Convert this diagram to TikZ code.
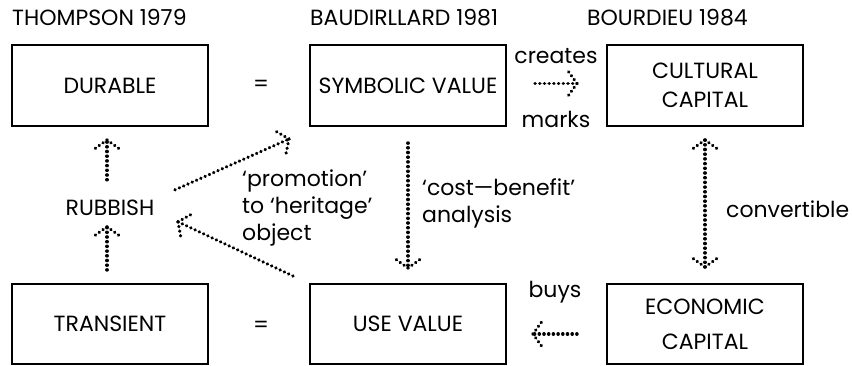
\documentclass[tikz,border=0pt]{standalone}
\usepackage{fontspec}
\setmainfont{Poppins}
\usetikzlibrary{positioning, decorations.markings}

\tikzset{
  box/.style={draw, line width=1.5pt, minimum width=196pt, minimum height=81pt,
    outer sep=0pt, inner sep=0pt, align=center},
  dots/.style={line width=3.4pt, line cap=round, dash pattern=on 0.2pt off 4.5pt},
  headtip/.style={postaction={decorate, decoration={markings,
    mark=at position 1 with {\draw[dots] (0,0) -- (-10pt,14pt);
                             \draw[dots] (0,0) -- (-10pt,-14pt);}}}},
  tailtip/.style={postaction={decorate, decoration={markings,
    mark=at position 0 with {\draw[dots] (0,0) -- (10pt,14pt);
                             \draw[dots] (0,0) -- (10pt,-14pt);}}}},
  dotarrow/.style={dots, headtip},
  dotboth/.style={dots, headtip, tailtip}
}

\begin{document}
\begin{tikzpicture}[x=1pt, y=-1pt, font=\fontsize{22}{27}\selectfont]
  \useasboundingbox (0,0) rectangle (852,365);

  % headings
  \node[anchor=base west, inner sep=0pt] (thompson) at (12,25) {THOMPSON 1979};
  \node[anchor=base west, inner sep=0pt] (baudrillard) at (310,25) {BAUDIRLLARD 1981};
  \node[anchor=base west, inner sep=0pt] (bourdieu) at (587,25) {BOURDIEU 1984};

  % boxes
  \node[box] (durable) at (110,85.5) {DURABLE};
  \node[box] (symbolic) at (408,85.5) {SYMBOLIC VALUE};
  \node[box] (cultural) at (705,85.5) {CULTURAL\\[2pt]CAPITAL};
  \node[box, minimum height=80pt] (transient) at (110,324) {TRANSIENT};
  \node[box, minimum height=80pt] (usevalue) at (408,324) {USE VALUE};
  \node[box, minimum height=80pt] (economic) at (705,324) {ECONOMIC\\[8pt]CAPITAL};

  \node (eqtop) at (261,86) {=};
  \node (eqbot) at (261,327) {=};
  \node[anchor=base, inner sep=0pt] (rubbish) at (110,215) {RUBBISH};

  % labels
  \node[anchor=base, inner sep=0pt] (creates) at (556,63) {creates};
  \node[anchor=base, inner sep=0pt] (marks) at (556,127) {marks};
  \node[anchor=base, inner sep=0pt] (buys) at (555,297) {buys};
  \node[anchor=base west, inner sep=0pt] (convertible) at (726,217) {convertible};
  \node[anchor=base west, inner sep=0pt, align=left] (costbenefit) at (422,222)
    {‘cost—benefit’\\analysis};
  \node[anchor=base west, inner sep=0pt, align=left] (promotion) at (242,240)
    {‘promotion’\\to ‘heritage’\\object};

  % dotted arrows
  \draw[dotarrow] ([xshift=-3pt,yshift=27.5pt]rubbish.center)
    -- ([xshift=-3pt,yshift=-14pt]durable.south);
  \draw[dotarrow] ([xshift=-3pt,yshift=14pt]transient.north)
    -- ([xshift=-3pt,yshift=-19.5pt]rubbish.center);
  \draw[dotarrow] ([xshift=29pt,yshift=2pt]symbolic.east)
    -- ([xshift=-30pt,yshift=2pt]cultural.west);
  \draw[dotarrow] ([yshift=-17pt]symbolic.south) -- ([yshift=16pt]usevalue.north);
  \draw[dotboth] ([yshift=-14pt]cultural.south) -- ([yshift=17pt]economic.north);
  \draw[dotarrow] ([xshift=-30pt,yshift=-10pt]economic.west)
    -- ([xshift=27pt,yshift=-10pt]usevalue.east);
  \draw[dotarrow] ([xshift=65pt,yshift=17.5pt]rubbish.center)
    -- ([xshift=-21pt,yshift=-13pt]symbolic.south west);
  \draw[dotarrow] ([xshift=-17pt,yshift=8pt]usevalue.north west)
    -- ([xshift=68pt,yshift=-14.5pt]rubbish.center);
\end{tikzpicture}
\end{document}
